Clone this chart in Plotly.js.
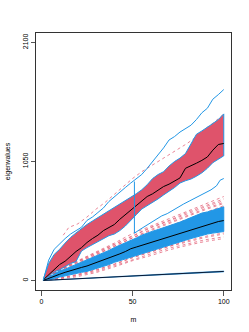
<!DOCTYPE html>
<html>
<head>
<meta charset="utf-8">
<script src="https://cdn.plot.ly/plotly-3.0.1.min.js"></script>
<style>html,body{margin:0;padding:0;background:#fff;}#chart{width:249px;height:332px;}</style>
</head>
<body>
<div id="chart"></div>
<script>
// ---- data ----
const m34 = [1,4,7,10,13,16,19,22,25,28,31,34,37,40,43,46,49,52,55,58,61,64,67,70,73,76,79,82,85,88,91,94,97,100];

// upper (largest) group
const upMedian = [5,50,95,141,170,215,256,290,335,370,400,440,470,494,540,580,615,660,700,741,765,800,829,850,880,905,990,1010,1035,1060,1090,1150,1200,1209];
const upTop    = [10,150,230,275,330,380,420,460,494,525,555,585,615,645,670,700,730,765,800,845,900,935,960,1010,1050,1080,1120,1200,1290,1320,1350,1385,1420,1470];
const upBottom = [0,40,75,95,120,150,168,260,290,318,345,370,395,410,440,480,525,580,630,665,690,720,755,790,820,860,880,895,920,950,990,1040,1070,1100];
const outerMax = [0,180,275,326,370,410,440,470,530,560,600,640,697,740,785,820,860,895,935,990,1050,1100,1170,1240,1270,1310,1340,1370,1420,1480,1520,1600,1640,1685];

const outerMinM = [51,51,54,57,60,63,66,69,72,75,78,81,84,87,90,93,96,98,100];
const outerMin  = [873,417,450,480,503,535,570,590,620,650,675,700,725,745,770,800,835,885,900];

const pinkUpM = [12,15,20,25,30,35,40,45,50,55,60,65,70,75,80,85,90,95,100];
const pinkUp  = [400,468,500,560,630,690,760,830,900,960,1010,1060,1110,1165,1210,1270,1340,1400,1470];

// lower (second) group
const loMedian = [0,20,38,55,72,88,100,115,128,145,165,185,200,215,235,255,280,295,310,325,345,360,373,385,400,415,435,450,462,475,490,505,520,529];
const loTop    = [0,30,60,85,100,120,145,165,185,205,222,245,265,290,310,330,355,375,400,420,435,450,465,480,495,515,535,555,580,595,605,620,640,650];
const loBottom = [0,5,18,30,42,55,62,72,80,95,110,125,140,160,175,190,210,225,240,255,270,285,300,310,325,340,355,370,385,398,410,418,428,432];

const m11 = [1,10,20,30,40,50,60,70,80,90,100];
const cloud1 = [0,100,175,250,330,415,480,545,610,680,741];
const cloud2 = [0,97,170,245,320,400,470,530,600,660,720];
const cloud3 = [0,95,165,240,315,395,465,525,590,650,705];
const cloud4 = [0,92,158,232,305,382,450,512,575,635,690];
const cloud5 = [0,90,150,225,300,375,440,505,565,625,680];
const cloud6 = [0,80,140,210,285,350,420,480,540,600,660];
const cloud7 = [0,22,55,95,145,205,255,305,350,390,420];
const cloud8 = [0,20,50,90,140,200,250,300,340,380,410];
const cloud9 = [0,15,45,80,130,185,235,285,325,360,385];
const cloud10 = [0,10,35,70,120,175,220,270,310,345,370];

// smallest group
const m5 = [1,25,50,75,100];
const smMedian = [0,20,40,60,80];
const smTop    = [0,22,43,64,84];
const smBottom = [0,18,37,56,75];

// ---- style ----
const RED = '#DF536B', BLUE = '#2297E6', PINK = 'rgba(223,83,107,0.7)';
const rev = a => a.slice().reverse();
const band = (x, top, bot, fill, lineColor, lw) => ({
  x: x.concat(rev(x)), y: top.concat(rev(bot)), type: 'scatter', mode: 'lines',
  fill: 'toself', fillcolor: fill, line: {color: lineColor, width: lw}, hoverinfo: 'skip'
});
const line = (x, y, color, w, dash) => ({
  x: x, y: y, type: 'scatter', mode: 'lines', line: {color: color, width: w, dash: dash || 'solid'}, hoverinfo: 'skip'
});

const traces = [];
[cloud1, cloud2, cloud3, cloud4, cloud5, cloud6, cloud7, cloud8, cloud9, cloud10]
  .forEach(c => traces.push(line(m11, c, PINK, 1, 'dot')));
traces.push(line(pinkUpM, pinkUp, PINK, 1, 'dot'));
traces.push(band(m34, loTop, loBottom, BLUE, BLUE, 1));
traces.push(band(m34, upTop, upBottom, RED, BLUE, 1));
traces.push(band(m5, smTop, smBottom, BLUE, BLUE, 0.5));
traces.push(line(m34, loMedian, '#000', 1));
traces.push(line(m34, upMedian, '#000', 1));
traces.push(line(m5, smMedian, '#0b1a33', 1));
traces.push(line(m34, outerMax, BLUE, 1));
traces.push(line(outerMinM, outerMin, BLUE, 1));

const FONT = {family: 'Liberation Sans, Arial, sans-serif', size: 7, color: '#000'};
const layout = {
  width: 249, height: 332, showlegend: false,
  paper_bgcolor: '#fff', plot_bgcolor: '#fff',
  margin: {l: 36, r: 18, t: 33, b: 42},
  font: FONT,
  xaxis: {
    range: [-2.96, 103.96], tickvals: [0, 50, 100], ticktext: ['0', '50', '100'],
    ticks: 'outside', ticklen: 5, tickwidth: 1, tickcolor: '#555',
    showgrid: false, zeroline: false, showline: true, mirror: true, linecolor: '#333', linewidth: 1,
    tickfont: FONT, title: {text: 'm', font: FONT, standoff: 12}
  },
  yaxis: {
    range: [-84, 2184], tickvals: [0, 1050, 2100], ticktext: ['0', '1050', '2100'],
    tickangle: -90,
    ticks: 'outside', ticklen: 4, tickwidth: 1, tickcolor: '#555',
    showgrid: false, zeroline: false, showline: true, mirror: true, linecolor: '#333', linewidth: 1,
    tickfont: FONT, title: {text: 'eigenvalues', font: FONT, standoff: 10}
  }
};
Plotly.newPlot('chart', traces, layout, {staticPlot: true, displayModeBar: false});
</script>
</body>
</html>
